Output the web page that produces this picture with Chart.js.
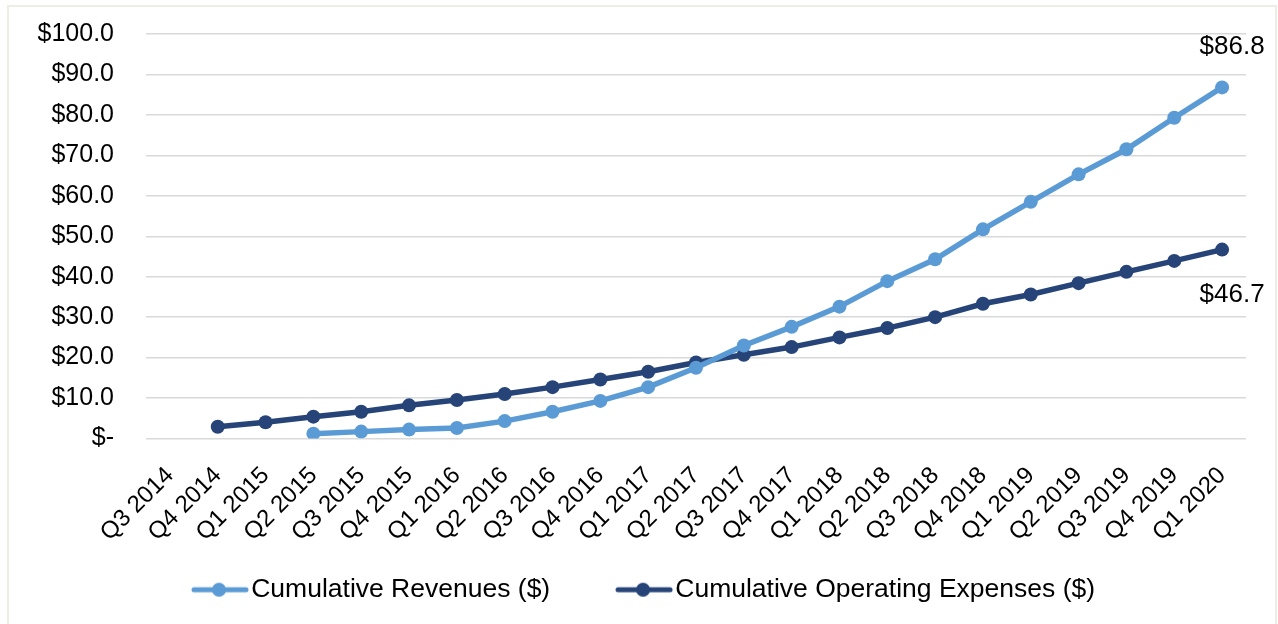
<!DOCTYPE html>
<html>
<head>
<meta charset="utf-8">
<script src="https://cdn.jsdelivr.net/npm/chart.js@4/dist/chart.umd.min.js"></script>
<style>
  html, body { margin: 0; padding: 0; background: #fff; }
  #wrap { position: relative; width: 1278px; height: 624px; overflow: hidden; }
  #frame { position: absolute; left: 7px; top: 5px; width: 1266px; height: 640px; border: 2px solid #efece3; pointer-events: none; }
  canvas { position: absolute; left: 0; top: 0; }
</style>
</head>
<body>
<div id="wrap">
  <canvas id="c" width="1278" height="624"></canvas>
  <div id="frame"></div>
</div>
<script>
const categories = ["Q3 2014","Q4 2014","Q1 2015","Q2 2015","Q3 2015","Q4 2015","Q1 2016","Q2 2016","Q3 2016","Q4 2016","Q1 2017","Q2 2017","Q3 2017","Q4 2017","Q1 2018","Q2 2018","Q3 2018","Q4 2018","Q1 2019","Q2 2019","Q3 2019","Q4 2019","Q1 2020"];
const revenues = [null, null, null, 1.2, 1.7, 2.2, 2.6, 4.3, 6.6, 9.3, 12.7, 17.5, 23.0, 27.6, 32.6, 38.9, 44.3, 51.7, 58.5, 65.3, 71.5, 79.3, 86.8];
const expenses = [null, 2.9, 4.0, 5.4, 6.6, 8.2, 9.5, 11.0, 12.7, 14.6, 16.5, 18.8, 20.7, 22.6, 25.0, 27.3, 30.0, 33.3, 35.6, 38.4, 41.2, 43.9, 46.7];
const yTicks = [0, 10, 20, 30, 40, 50, 60, 70, 80, 90, 100];
const seriesNames = ["Cumulative Revenues ($)", "Cumulative Operating Expenses ($)"];
const colors = ["#5b9bd5", "#264478"];
const FONT = '"Liberation Sans", Arial, sans-serif';

function legendIcon(color) {
  const c = document.createElement('canvas');
  c.width = 74; c.height = 18;
  const x = c.getContext('2d');
  x.strokeStyle = color; x.lineWidth = 5; x.lineCap = 'round';
  x.beginPath(); x.moveTo(18, 9); x.lineTo(70, 9); x.stroke();
  x.fillStyle = color;
  x.beginPath(); x.arc(43, 9, 7, 0, Math.PI * 2); x.fill();
  return c;
}
const icons = colors.map(legendIcon);

const endLabels = {
  id: 'endLabels',
  afterDatasetsDraw(chart) {
    const ctx = chart.ctx;
    ctx.save();
    ctx.font = '26px ' + FONT;
    ctx.fillStyle = '#000';
    ctx.textAlign = 'center';
    ctx.textBaseline = 'middle';
    const last = categories.length - 1;
    const m0 = chart.getDatasetMeta(0).data[last];
    const m1 = chart.getDatasetMeta(1).data[last];
    ctx.fillText('$' + revenues[last].toFixed(1), m0.x + 10, m0.y - 41);
    ctx.fillText('$' + expenses[last].toFixed(1), m1.x + 10, m1.y + 45);
    ctx.restore();
  }
};

new Chart(document.getElementById('c'), {
  type: 'line',
  data: {
    labels: categories,
    datasets: [
      { label: seriesNames[0], data: revenues, borderColor: colors[0], backgroundColor: colors[0], borderWidth: 5.5, pointRadius: 7, pointHoverRadius: 7, pointBorderWidth: 0, tension: 0 },
      { label: seriesNames[1], data: expenses, borderColor: colors[1], backgroundColor: colors[1], borderWidth: 5.5, pointRadius: 7, pointHoverRadius: 7, pointBorderWidth: 0, tension: 0 }
    ]
  },
  options: {
    responsive: false,
    animation: false,
    layout: { padding: { left: 37, right: 32, top: 34, bottom: 11 } },
    plugins: {
      tooltip: { enabled: false },
      legend: {
        position: 'bottom',
        labels: {
          usePointStyle: true,
          pointStyleWidth: 50,
          boxHeight: 18,
          padding: 25,
          color: '#000',
          font: { family: FONT, size: 26.5 },
          generateLabels(chart) {
            return chart.data.datasets.map((d, i) => ({
              text: i === 0 ? d.label + '     ' : d.label,
              fillStyle: colors[i], strokeStyle: colors[i], lineWidth: 0,
              pointStyle: icons[i], datasetIndex: i, hidden: false, fontColor: '#000'
            }));
          }
        }
      }
    },
    scales: {
      x: {
        offset: true,
        grid: { display: false, drawTicks: false },
        border: { display: false },
        afterFit(axis) { axis.height = 113; },
        ticks: {
          color: '#000', autoSkip: false, maxRotation: 45, minRotation: 45, padding: 23,
          font: { family: FONT, size: 24 }
        }
      },
      y: {
        min: 0, max: 100,
        afterBuildTicks(axis) { axis.ticks = yTicks.map(v => ({ value: v })); },
        afterFit(axis) { axis.width = 109; axis.paddingTop = 0; axis.paddingBottom = 0; },
        grid: { color: '#d9d9d9', lineWidth: 1.5, drawTicks: false },
        border: { display: false },
        ticks: {
          color: '#000', padding: 32,
          font: { family: FONT, size: 25 },
          callback(v) { return v === 0 ? '$-' : '$' + Number(v).toFixed(1); }
        }
      }
    }
  },
  plugins: [endLabels]
});
</script>
</body>
</html>
